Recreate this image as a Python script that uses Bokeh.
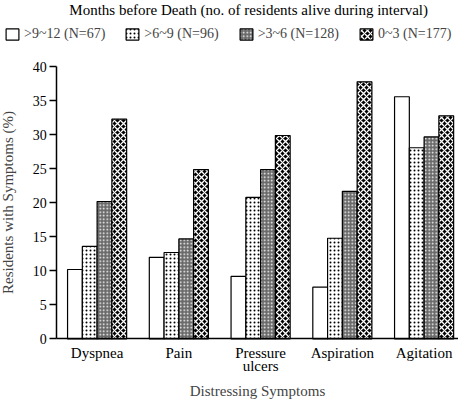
from bokeh.plotting import figure
from bokeh.models import ColumnDataSource, FixedTicker, Legend, LegendItem, Label, Range1d
from bokeh.transform import dodge
from bokeh.embed import file_html
from bokeh.resources import INLINE

symptoms = ["Dyspnea", "Pain", "Pressure\nulcers", "Aspiration", "Agitation"]
series_labels = [">9~12 (N=67)", ">6~9 (N=96)", ">3~6 (N=128)", "0~3 (N=177)"]
m9_12 = [10.2, 12.0, 9.2, 7.6, 35.6]
m6_9 = [13.6, 12.7, 20.8, 14.8, 28.1]
m3_6 = [20.2, 14.7, 24.9, 21.7, 29.7]
m0_3 = [32.3, 24.9, 29.9, 37.8, 32.8]
y_ticks = [0, 5, 10, 15, 20, 25, 30, 35, 40]
title_text = "Months before Death  (no. of residents alive during interval)"

FONT = "Liberation Serif"
W, H = 458, 402
BW = 0.1807
X0, X1 = -0.1817, 5.4208
YAX = 0.5058
Y0, Y1 = -9.35, 49.75
pos = [i + 1 for i in range(len(symptoms))]
src = ColumnDataSource(dict(x=pos, a=m9_12, b=m6_9, c=m3_6, d=m0_3))

p = figure(width=W, height=H, output_backend="svg", toolbar_location=None,
           x_range=Range1d(X0, X1), y_range=Range1d(Y0, Y1),
           min_border_left=0, min_border_right=0, min_border_top=0, min_border_bottom=0)
p.outline_line_color = None
p.xgrid.visible = False
p.ygrid.visible = False
p.background_fill_color = "white"
p.border_fill_color = "white"

styles = [
    dict(fill_color="white"),
    dict(fill_color="white", hatch_pattern="dot", hatch_color="black", hatch_scale=4, hatch_weight=1),
    dict(fill_color="#6a6a6a", hatch_pattern="dot", hatch_color="white", hatch_scale=3.5, hatch_weight=1.2),
    dict(fill_color="black", hatch_pattern="diagonal_cross", hatch_color="white", hatch_scale=6, hatch_weight=1.3),
]
rs = []
for k, col in enumerate(["a", "b", "c", "d"]):
    r = p.vbar(x=dodge("x", (k - 1.5) * BW, range=p.x_range), top=col, bottom=0, width=BW,
               source=src, line_color="black", line_width=1.2, **styles[k])
    rs.append(r)

legend = Legend(items=[LegendItem(label=series_labels[k], renderers=[rs[k]]) for k in range(4)],
                orientation="horizontal", location=(4, 360), glyph_width=16, glyph_height=14,
                label_standoff=4, spacing=19, padding=0, margin=0, border_line_color=None,
                background_fill_alpha=0, label_text_font=FONT, label_text_font_size="14px")
p.add_layout(legend)

p.add_layout(Label(x=250, y=393, x_units="screen", y_units="screen", text=title_text,
                   text_align="center", text_baseline="middle", text_font=FONT,
                   text_font_size="15px", text_color="black"))

ya = p.yaxis[0]
ya.fixed_location = YAX
ya.bounds = (0, 40)
ya.ticker = FixedTicker(ticks=y_ticks)
ya.major_tick_out = 7
ya.major_tick_in = 0
ya.minor_tick_out = 0
ya.minor_tick_in = 0
ya.axis_line_width = 1.5
ya.major_tick_line_width = 1.5
ya.major_label_standoff = 3
ya.major_label_text_font = FONT
ya.major_label_text_font_size = "14px"
ya.major_label_text_color = "black"
ya.axis_label = "Residents with Symptoms (%)"
ya.axis_label_text_font = FONT
ya.axis_label_text_font_size = "15px"
ya.axis_label_text_font_style = "normal"
ya.axis_label_standoff = 14

xa = p.xaxis[0]
xa.fixed_location = 0
xa.bounds = (YAX, X1)
xa.ticker = FixedTicker(ticks=pos)
xa.major_label_overrides = {pos[i]: symptoms[i] for i in range(len(symptoms))}
xa.major_tick_out = 0
xa.major_tick_in = 0
xa.minor_tick_out = 0
xa.minor_tick_in = 0
xa.axis_line_width = 1.5
xa.major_label_standoff = 6
xa.major_label_text_font = FONT
xa.major_label_text_font_size = "15px"
xa.major_label_text_line_height = 0.8
xa.major_label_text_color = "black"
xa.axis_label = "Distressing Symptoms"
xa.axis_label_text_font = FONT
xa.axis_label_text_font_size = "15px"
xa.axis_label_text_font_style = "normal"
xa.axis_label_standoff = 7

open("out.html", "w").write(file_html(p, INLINE))
